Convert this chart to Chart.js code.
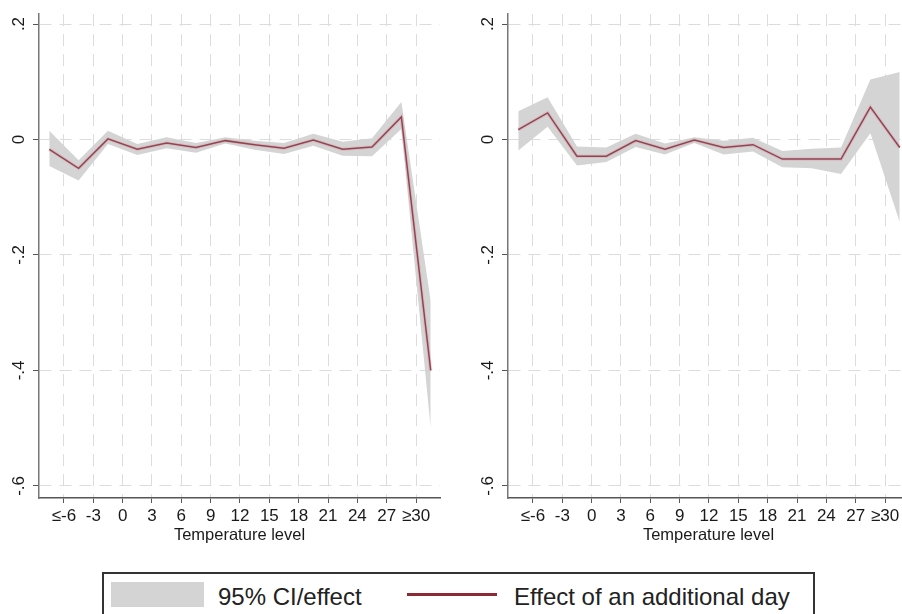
<!DOCTYPE html>
<html>
<head>
<meta charset="utf-8">
<script src="https://cdn.jsdelivr.net/npm/chart.js@4.4.1/dist/chart.umd.min.js"></script>
<style>
  body { margin: 0; width: 902px; height: 614px; overflow: hidden; background: #fff; position: relative;
         font-family: "Liberation Sans", Arial, sans-serif; color: #222; }
  canvas { position: absolute; top: 0; }
  #left { left: 0; }
  #right { left: 469px; }
  .legend-box { position: absolute; left: 102px; top: 572px; width: 709px; height: 60px; border: 2px solid #333; }
  .swatch { position: absolute; left: 111px; top: 582px; width: 93px; height: 25px; background: #d4d4d4; }
  .redline { position: absolute; left: 407px; top: 593px; width: 90px; height: 3px; background: #8b2a35; }
  .ltext { position: absolute; top: 585px; font-size: 24px; line-height: 24px; white-space: nowrap; }
</style>
</head>
<body>
<canvas id="left" width="451" height="545"></canvas>
<canvas id="right" width="451" height="545"></canvas>

<div class="legend-box"></div>
<div class="swatch"></div>
<span class="ltext" style="left:218px">95% CI/effect</span>
<div class="redline"></div>
<span class="ltext" style="left:514px">Effect of an additional day</span>

<script>
/*---------------- dados ----------------*/

// pontos ficam no meio de cada faixa de temperatura
const binMid = [-7.5, -4.5, -1.5, 1.5, 4.5, 7.5, 10.5, 13.5, 16.5, 19.5, 22.5, 25.5, 28.5, 31.5];

const xTicks = [-6, -3, 0, 3, 6, 9, 12, 15, 18, 21, 24, 27, 30];
const xTickLabels = ["≤-6", "-3", "0", "3", "6", "9", "12", "15", "18", "21", "24", "27", "≥30"];
const yTicks = [-0.6, -0.4, -0.2, 0, 0.2];

// painel esquerdo
const effectL = [-0.017, -0.050, 0.001, -0.017, -0.006, -0.014, -0.002, -0.009, -0.015, -0.001, -0.017, -0.013, 0.039, -0.400];
const upperL  = [0.015, -0.036, 0.015, -0.008, 0.004, -0.006, 0.004, -0.002, -0.006, 0.010, -0.004, 0.002, 0.065, -0.280];
const lowerL  = [-0.046, -0.071, -0.008, -0.027, -0.015, -0.023, -0.007, -0.018, -0.025, -0.011, -0.028, -0.029, 0.018, -0.500];

// painel direito
const effectR = [0.017, 0.046, -0.029, -0.029, -0.002, -0.017, -0.001, -0.014, -0.009, -0.034, -0.034, -0.034, 0.056, -0.014];
const upperR  = [0.049, 0.073, -0.012, -0.014, 0.010, -0.007, 0.004, -0.002, 0.003, -0.020, -0.016, -0.014, 0.104, 0.117];
const lowerR  = [-0.019, 0.022, -0.045, -0.039, -0.013, -0.026, -0.006, -0.026, -0.021, -0.048, -0.050, -0.060, 0.011, -0.143];


/*---------------- função que monta cada painel ----------------*/

function points(values) {
  return values.map((v, i) => ({ x: binMid[i], y: v }));
}

function yLabel(v) {
  if (v === 0) return "0";
  return v.toFixed(1).replace("0.", ".");
}

function makePanel(id, effect, upper, lower) {
  const ctx = document.getElementById(id).getContext("2d");
  new Chart(ctx, {
    type: "line",
    data: {
      datasets: [
        { data: points(upper), fill: "+1", backgroundColor: "#d4d4d4", borderWidth: 0, pointRadius: 0 },
        { data: points(lower), fill: false, borderWidth: 0, pointRadius: 0 },
        { data: points(effect), fill: false, borderColor: "rgba(215,150,160,0.35)", borderWidth: 3.5, pointRadius: 0 },
        { data: points(effect), fill: false, borderColor: "#6e1a28", borderWidth: 1.5, pointRadius: 0 }
      ]
    },
    options: {
      responsive: false,
      animation: false,
      devicePixelRatio: 1,
      layout: { padding: { top: 12, right: 11, left: 0, bottom: 0 } },
      plugins: {
        legend: { display: false },
        tooltip: { enabled: false },
        filler: { drawTime: "beforeDatasetsDraw" }
      },
      elements: { line: { tension: 0 } },
      scales: {
        x: {
          type: "linear",
          min: -8.55,
          max: 32.45,
          afterBuildTicks: s => { s.ticks = xTicks.map(v => ({ value: v })); },
          afterFit: s => { s.height = 47; },
          ticks: {
            autoSkip: false, maxRotation: 0, minRotation: 0, padding: 3,
            color: "#1a1a1a", font: { family: "'Liberation Sans', Arial", size: 17 },
            callback: v => xTickLabels[xTicks.indexOf(v)]
          },
          grid: { color: "#dcdcdc", lineWidth: 1, tickColor: "#555", tickLength: 5, tickBorderDash: [] },
          border: { color: "#555", width: 1.5, dash: [12, 8] },
          title: {
            display: true, text: "Temperature level", color: "#1a1a1a", padding: 0,
            font: { family: "'Liberation Sans', Arial", size: 16.5 }
          }
        },
        y: {
          min: -0.621,
          max: 0.217,
          afterBuildTicks: s => { s.ticks = yTicks.map(v => ({ value: v })); },
          afterFit: s => { s.width = 39; },
          ticks: {
            minRotation: 90, maxRotation: 90, crossAlign: "center", padding: 4,
            color: "#1a1a1a", font: { family: "'Liberation Sans', Arial", size: 17 },
            callback: v => yLabel(v)
          },
          grid: { color: "#dcdcdc", lineWidth: 1, tickColor: "#555", tickLength: 6, tickBorderDash: [] },
          border: { color: "#777", width: 1.5, dash: [12, 8] }
        }
      }
    }
  });
}

makePanel("left", effectL, upperL, lowerL);
makePanel("right", effectR, upperR, lowerR);
</script>
</body>
</html>
